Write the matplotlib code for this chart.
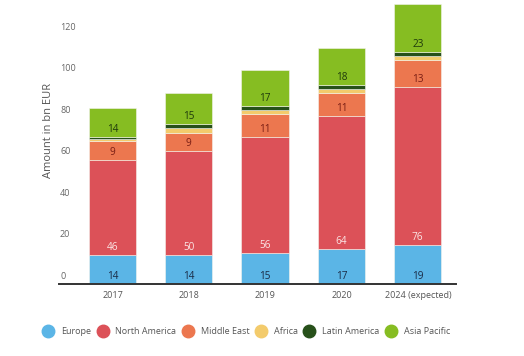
import matplotlib
matplotlib.use('Agg')
import matplotlib.pyplot as plt
import matplotlib.transforms as mtransforms
from matplotlib.lines import Line2D
import numpy as np

plt.rcParams['font.family'] = ['Open Sans', 'DejaVu Sans']

years = ['2017', '2018', '2019', '2020', '2024 (expected)']
regions = ['Europe', 'North America', 'Middle East', 'Africa', 'Latin America', 'Asia Pacific']
europe = [14, 14, 15, 17, 19]
north_america = [46, 50, 56, 64, 76]
middle_east = [9, 9, 11, 11, 13]
africa = [1, 2, 2, 2, 2]
latin_america = [1, 2, 2, 2, 2]
asia_pacific = [14, 15, 17, 18, 23]
yticks = [0, 20, 40, 60, 80, 100, 120]

series = [europe, north_america, middle_east, africa, latin_america, asia_pacific]
colors = ['#5bb5e6', '#dc5158', '#ec774f', '#f3cb6c', '#27501a', '#86bd22']
label_colors = ['#1b2b45', '#fbe5e5', '#7a1e14', None, None, '#1f3a0c']

fig = plt.figure(figsize=(5.24, 3.56), dpi=100)
ax = fig.add_axes([0.1126, 0.2022, 0.7576, 0.7978])

x = np.arange(len(years))
bottom = np.zeros(len(years))
for vals, col, lcol in zip(series, colors, label_colors):
    bars = ax.bar(x, vals, 0.62, bottom=bottom, color=col, edgecolor='#f4f4ee', linewidth=0.4, zorder=2)
    if lcol is not None:
        for xi, b, v in zip(x, bottom, vals):
            ax.annotate(str(v), (xi, b), xytext=(0, 7.5), textcoords='offset pixels',
                        ha='center', va='center', fontsize=7.2, color=lcol, zorder=3)
    bottom = bottom + np.array(vals)

ax.set_xlim(-0.70, 4.5)
ax.set_ylim(0, 136.9)

for s in ['top', 'right', 'left']:
    ax.spines[s].set_visible(False)
ax.spines['bottom'].set_color('#333333')
ax.spines['bottom'].set_linewidth(1.4)

# y labels sit inside the plot, a bit above their value
ax.set_yticks([])
trans = mtransforms.blended_transform_factory(ax.transAxes, ax.transData)
for t in yticks:
    ax.annotate(str(t), (0, t), xycoords=trans, xytext=(1, 8), textcoords='offset pixels',
                ha='left', va='center', fontsize=6.5, color='#666666')

ax.set_xticks(x)
ax.set_xticklabels(years, fontsize=6.5, color='#555555')
ax.tick_params(axis='x', length=0, pad=5)

fig.text(0.092, 0.635, 'Amount in bn EUR', rotation=90, ha='center', va='center',
         fontsize=8, color='#555555')

handles = [Line2D([], [], marker='o', linestyle='', markersize=9, color=c) for c in colors]
fig.legend(handles, regions, loc='center', bbox_to_anchor=(0.471, 0.068), ncol=6,
           frameon=False, fontsize=6.5, labelcolor='#555555', handletextpad=0.9,
           columnspacing=0.8, handlelength=1.0)

fig.savefig('out.png', dpi=100)
